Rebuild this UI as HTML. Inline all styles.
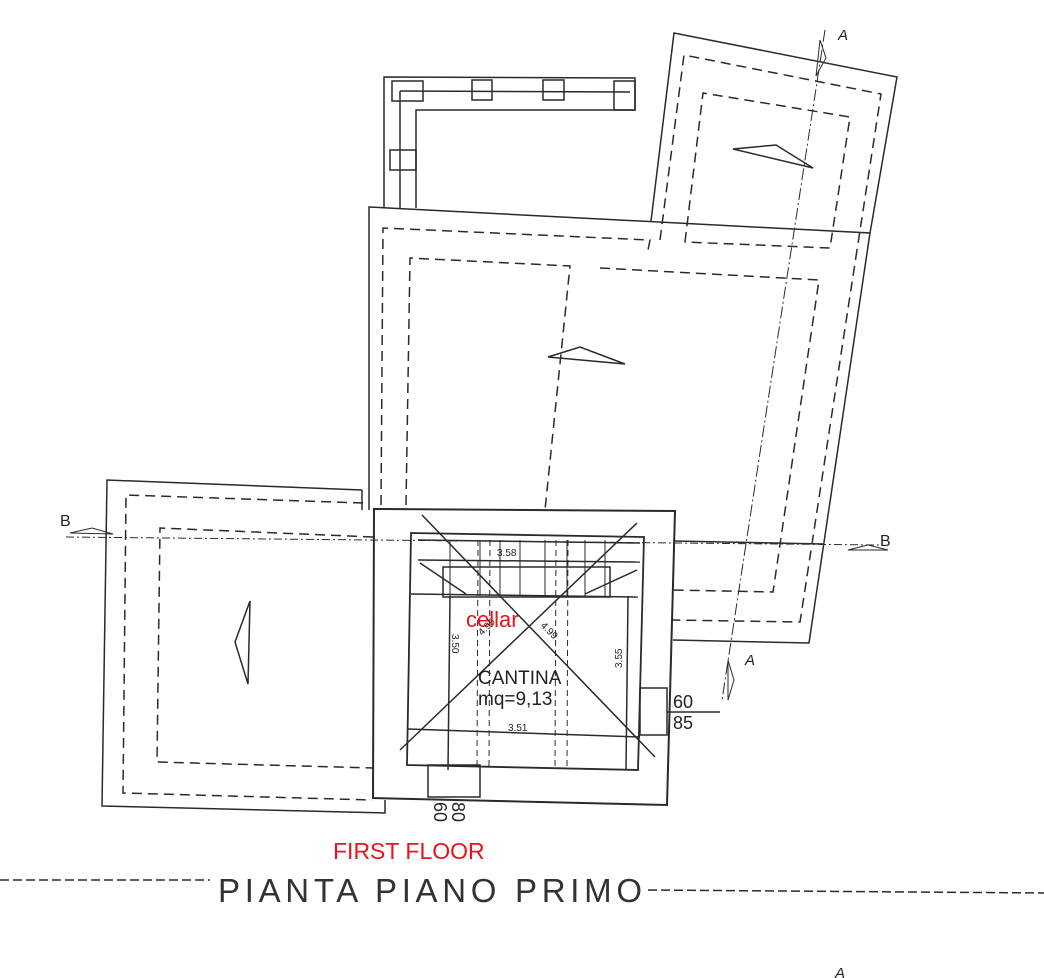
<!DOCTYPE html>
<html><head><meta charset="utf-8"><style>
html,body{margin:0;padding:0;background:#fff;}
svg{display:block;}
text{font-family:"Liberation Sans",sans-serif;}
</style></head><body>
<svg width="1044" height="978" viewBox="0 0 1044 978" xmlns="http://www.w3.org/2000/svg">
<g fill="none" stroke="#2a2a2a" stroke-width="1.5">
<!-- L wall -->
<path d="M384,208 L384,77 L635,78 L635,110 L416,110 L416,208"/>
<line x1="400" y1="91" x2="630" y2="92"/>
<line x1="400" y1="91" x2="400" y2="208"/>
<rect x="392" y="81" width="31" height="20"/>
<rect x="472" y="80" width="20" height="20"/>
<rect x="543" y="80" width="21" height="20"/>
<rect x="614" y="81" width="21" height="29"/>
<rect x="390" y="150" width="26" height="20"/>
<!-- top right building -->
<path d="M651,221 L674,33 L897,77 L870,233"/>
<path d="M660,240 L684,55 L881,94 L857,250" stroke-dasharray="10 6"/>
<path d="M685,242 L703,93 L850,117 L830,248 Z" stroke-dasharray="10 6"/>
<path d="M733,149 L776,145 L813,168 Z"/>
<!-- middle building -->
<path d="M369,510 L369,207 L870,233 L809,643 L673,640"/>
<line x1="673" y1="541" x2="823" y2="544"/>
<path d="M381,505 L383,228 L650,240 L648,250" stroke-dasharray="10 6"/>
<path d="M406,505 L410,258 L570,266 L545,510" stroke-dasharray="10 6"/>
<path d="M600,268 L819,280 L773,592 L673,590" stroke-dasharray="10 6"/>
<path d="M857,250 L800,622 L673,620" stroke-dasharray="10 6"/>
<path d="M548,357 L580,347 L625,364 Z"/>
<!-- left building -->
<path d="M362,490 L107,480 L102,806 L385,813 L385,800"/>
<line x1="362" y1="490" x2="362" y2="510"/>
<path d="M363,503 L126,495 L123,793 L372,800" stroke-dasharray="10 6"/>
<path d="M373,537 L160,528 L157,762 L373,768" stroke-dasharray="10 6"/>
<path d="M250,601 L235,642 L248,684 Z"/>
<!-- cantina -->
<path d="M374,509 L675,511 L667,805 L373,798 Z" stroke-width="2"/>
<path d="M411,533 L644,537 L638,770 L407,765 Z" stroke-width="1.8"/>
<line x1="418" y1="540" x2="640" y2="543"/>
<line x1="418" y1="560" x2="640" y2="562"/>
<line x1="411" y1="594" x2="638" y2="597"/>
<rect x="443" y="567" width="167" height="30"/>
<g stroke-width="1">
<line x1="450" y1="540" x2="450" y2="596"/><line x1="480" y1="540" x2="480" y2="596"/>
<line x1="500" y1="540" x2="500" y2="596"/><line x1="520" y1="540" x2="520" y2="596"/>
<line x1="545" y1="540" x2="545" y2="596"/><line x1="567" y1="540" x2="567" y2="596"/>
<line x1="585" y1="540" x2="585" y2="596"/><line x1="605" y1="540" x2="605" y2="596"/>
</g>
<line x1="450" y1="596" x2="448" y2="770"/>
<line x1="628" y1="596" x2="626" y2="770"/>
<g stroke-dasharray="6 4" stroke-width="1">
<line x1="478" y1="540" x2="477" y2="768"/><line x1="490" y1="540" x2="489" y2="768"/>
<line x1="556" y1="540" x2="555" y2="768"/><line x1="568" y1="540" x2="567" y2="768"/>
</g>
<line x1="422" y1="515" x2="655" y2="757"/>
<line x1="400" y1="750" x2="637" y2="523"/>
<line x1="420" y1="563" x2="466" y2="594"/>
<line x1="585" y1="594" x2="637" y2="570"/>
<line x1="408" y1="729" x2="640" y2="737"/>
<rect x="640" y="688" width="27" height="47"/>
<line x1="667" y1="712" x2="720" y2="712"/>
<rect x="428" y="765" width="52" height="32"/>
<!-- section lines -->
<path d="M66,537 L880,545" stroke-dasharray="8 3 2 3" stroke-width="1"/>
<path d="M825,30 L722,700" stroke-dasharray="12 3 2 3" stroke-width="1"/>
<path d="M70,533 L92,528 L113,534 Z" stroke-width="1"/>
<path d="M848,550 L868,545 L888,550 Z" stroke-width="1"/>
<path d="M820,40 L826,58 L816,76 Z" stroke-width="1"/>
<path d="M728,660 L734,680 L728,700 Z" stroke-width="1"/>
<!-- title dashes -->
<line x1="0" y1="880" x2="210" y2="880" stroke-dasharray="9 4"/>
<line x1="648" y1="890" x2="1044" y2="893" stroke-dasharray="9 4"/>
</g>
<g fill="#222">
<text x="60" y="526" font-size="16">B</text>
<text x="880" y="546" font-size="16">B</text>
<text x="838" y="40" font-size="15" font-style="italic">A</text>
<text x="745" y="665" font-size="15" font-style="italic">A</text>
<text x="835" y="978" font-size="15" font-style="italic">A</text>
<text x="497" y="556" font-size="10">3.58</text>
<text x="508" y="731" font-size="10">3.51</text>
<text x="478" y="684" font-size="19">CANTINA</text>
<text x="478" y="705" font-size="19">mq=9,13</text>
<text x="673" y="708" font-size="18">60</text>
<text x="673" y="729" font-size="18">85</text>
<text font-size="10" transform="translate(452,634) rotate(90)">3.50</text>
<text font-size="10" transform="translate(622,668) rotate(-90)">3.55</text>
<text font-size="10" transform="translate(482,636) rotate(-45)">4.99</text>
<text font-size="10" transform="translate(540,626) rotate(45)">4.99</text>
<text font-size="18" transform="translate(434,802) rotate(90)">60</text>
<text font-size="18" transform="translate(452,802) rotate(90)">80</text>
<text x="218" y="902" font-size="33" textLength="424" lengthAdjust="spacing" fill="#333">PIANTA PIANO PRIMO</text>
</g>
<text x="333" y="859" font-size="23" fill="#e8141b">FIRST FLOOR</text>
<text x="466" y="627" font-size="22" fill="#e8141b">cellar</text>
</svg>
</body></html>
